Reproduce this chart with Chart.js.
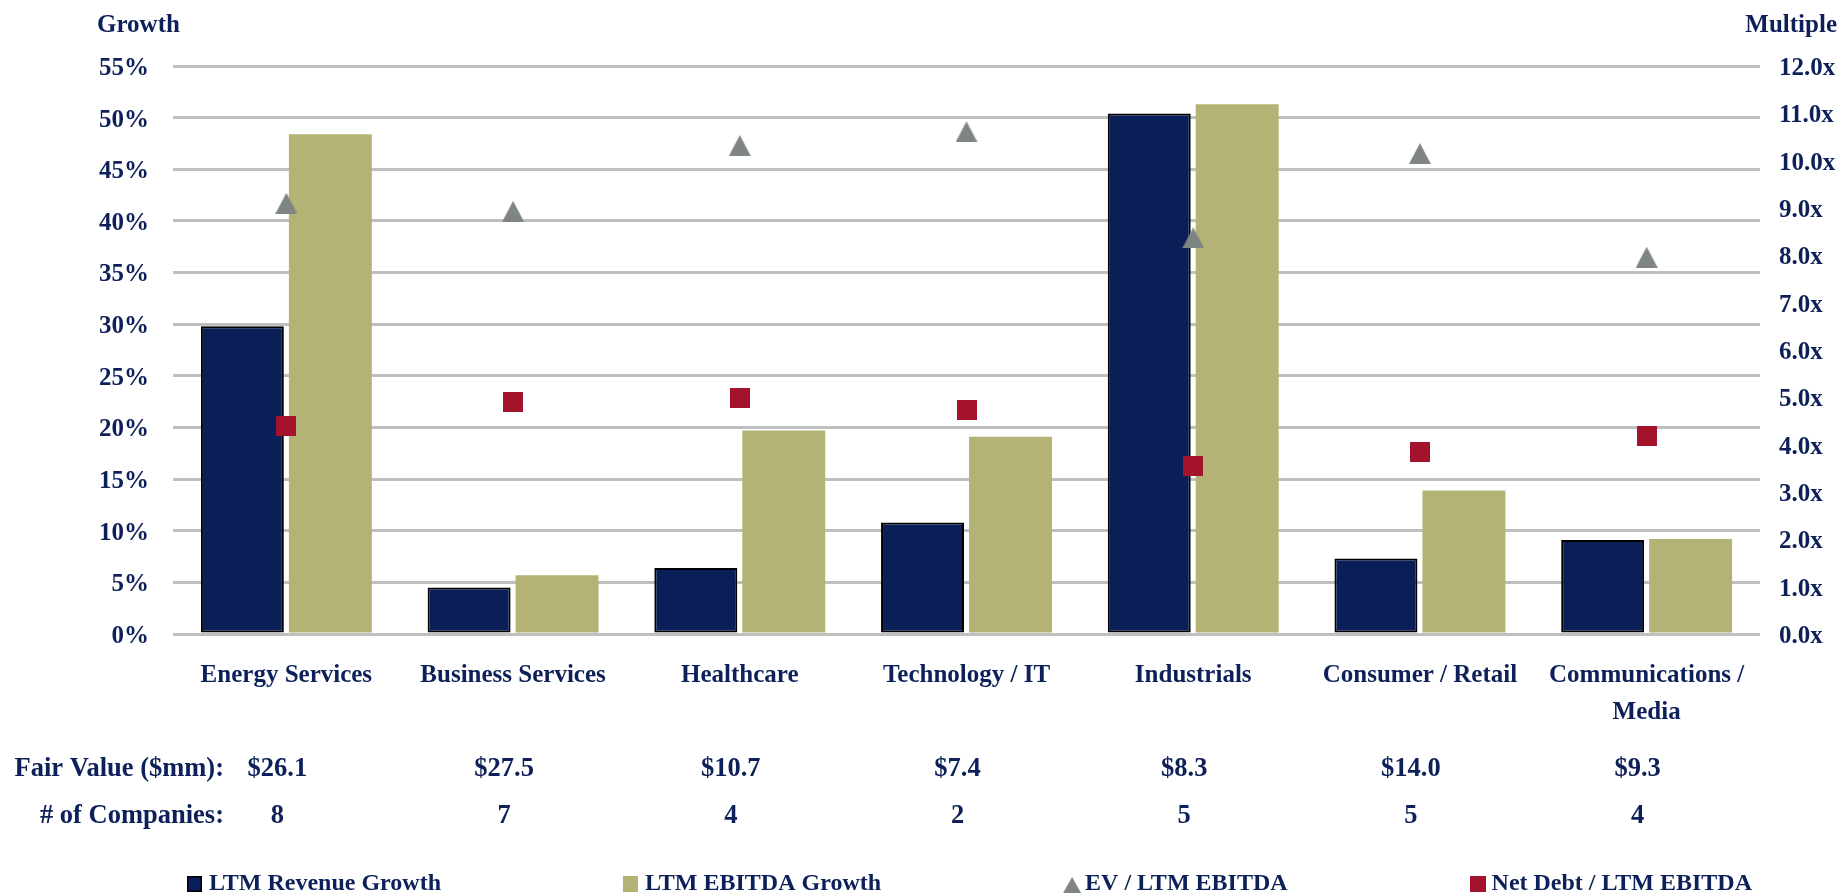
<!DOCTYPE html>
<html><head><meta charset="utf-8">
<script src="https://cdn.jsdelivr.net/npm/chart.js@4/dist/chart.umd.min.js"></script>
<style>html,body{margin:0;padding:0;background:#fff;} #wrap{width:1843px;height:895px;}</style>
</head><body><div id="wrap"><canvas id="c" width="1843" height="895"></canvas></div>
<script>
// ---- data ----
const categories = ['Energy Services', 'Business Services', 'Healthcare', 'Technology / IT', 'Industrials', 'Consumer / Retail', ['Communications /', 'Media']];
const revenueGrowth = [29.8, 4.5, 6.4, 10.8, 50.4, 7.3, 9.1];
const ebitdaGrowth = [48.4, 5.7, 19.7, 19.1, 51.3, 13.9, 9.2];
const evEbitda = [9.10, 8.93, 10.32, 10.61, 8.37, 10.15, 7.96];
const netDebtEbitda = [4.40, 4.91, 4.99, 4.74, 3.55, 3.85, 4.19];
const fairValue = ['$26.1', '$27.5', '$10.7', '$7.4', '$8.3', '$14.0', '$9.3'];
const companyCounts = ['8', '7', '4', '2', '5', '5', '4'];
const growthTickLabels = ['0%', '5%', '10%', '15%', '20%', '25%', '30%', '35%', '40%', '45%', '50%', '55%'];
const multipleTickLabels = ['0.0x', '1.0x', '2.0x', '3.0x', '4.0x', '5.0x', '6.0x', '7.0x', '8.0x', '9.0x', '10.0x', '11.0x', '12.0x'];
const seriesNames = ['LTM Revenue Growth', 'LTM EBITDA Growth', 'EV / LTM EBITDA', 'Net Debt / LTM EBITDA'];

// ---- styles ----
const NAVY = '#0a1e57', TAN = '#b3b375', GRAY = '#7e8583', RED = '#a3132b', TEXT = '#0d2059', GRID = '#bfbfbf';
const FAMILY = '"Liberation Serif", "Times New Roman", serif';
const FONT = 'bold 25px ' + FAMILY;
const TABLE_FONT = 'bold 26.5px ' + FAMILY;

function triangleImg(w, h) {
  const c = document.createElement('canvas'); c.width = w; c.height = h;
  const g = c.getContext('2d'); g.fillStyle = GRAY;
  g.beginPath(); g.moveTo(0, h); g.lineTo(w / 2, 0); g.lineTo(w, h); g.closePath(); g.fill();
  return c;
}
function squareImg(s) {
  const c = document.createElement('canvas'); c.width = s; c.height = s;
  const g = c.getContext('2d'); g.fillStyle = RED; g.fillRect(0, 0, s, s);
  return c;
}
const TRI = triangleImg(22, 21);
const SQ = squareImg(20);

const annotate = {
  id: 'annotate',
  afterDraw(chart) {
    const ctx = chart.ctx, xs = chart.scales.x;
    ctx.save();
    ctx.fillStyle = TEXT; ctx.font = FONT; ctx.textBaseline = 'middle';
    ctx.textAlign = 'left'; ctx.fillText('Growth', 97, 26);
    ctx.textAlign = 'right'; ctx.fillText('Multiple', 1837, 26);
    ctx.font = TABLE_FONT;
    ctx.fillText('Fair Value ($mm):', 224, 769);
    ctx.fillText('# of Companies:', 224, 816);
    ctx.textAlign = 'center';
    fairValue.forEach((v, i) => {
      const x = xs.getPixelForValue(i) - 9;
      ctx.fillText(v, x, 769);
      ctx.fillText(companyCounts[i], x, 816);
    });
    // legend
    ctx.font = 'bold 24px ' + FAMILY;
    ctx.textAlign = 'left';
    let x = 187; const cy = 884;
    chart.data.datasets.forEach((ds, i) => {
      if (i === 0) {
        ctx.fillStyle = '#000'; ctx.fillRect(x, cy - 8, 15, 16);
        ctx.fillStyle = ds.backgroundColor; ctx.fillRect(x + 1.5, cy - 6.5, 12, 13);
      } else if (i === 1) {
        ctx.fillStyle = ds.backgroundColor; ctx.fillRect(x, cy - 8, 15, 16);
      } else if (i === 2) {
        ctx.drawImage(TRI, x, cy - 7, 18, 16);
      } else {
        ctx.drawImage(SQ, x, cy - 8, 16, 16);
      }
      ctx.fillStyle = TEXT;
      ctx.fillText(ds.label, x + 22, cy);
      x += 22 + ctx.measureText(ds.label).width + 182;
    });
    ctx.restore();
  }
};

Chart.defaults.font.family = FAMILY;
Chart.defaults.font.weight = 'bold';
Chart.defaults.font.size = 25;
Chart.defaults.color = TEXT;

new Chart(document.getElementById('c'), {
  type: 'bar',
  data: {
    labels: categories,
    datasets: [
      { label: seriesNames[0], data: revenueGrowth, backgroundColor: NAVY, borderColor: '#000', borderWidth: 2, borderSkipped: false, yAxisID: 'y', order: 2, categoryPercentage: 0.776, barPercentage: 0.943 },
      { label: seriesNames[1], data: ebitdaGrowth, backgroundColor: TAN, borderWidth: 0, yAxisID: 'y', order: 2, categoryPercentage: 0.776, barPercentage: 0.943 },
      { type: 'line', label: seriesNames[2], data: evEbitda, showLine: false, pointStyle: TRI, backgroundColor: GRAY, borderColor: GRAY, yAxisID: 'y1', order: 1 },
      { type: 'line', label: seriesNames[3], data: netDebtEbitda, showLine: false, pointStyle: SQ, backgroundColor: RED, borderColor: RED, yAxisID: 'y1', order: 0 }
    ]
  },
  options: {
    responsive: false, animation: false, devicePixelRatio: 1,
    layout: { padding: { top: 66, bottom: 161, left: 0, right: 0 } },
    plugins: { legend: { display: false }, tooltip: { enabled: false } },
    scales: {
      x: {
        grid: { display: false, drawTicks: false }, border: { display: false },
        ticks: { padding: 23, maxRotation: 0, autoSkip: false, font: { size: 25, lineHeight: 1.48 }, color: TEXT },
        afterFit(s) { s.height = 100; }
      },
      y: {
        position: 'left', min: 0, max: 55,
        grid: { color: GRID, lineWidth: 3, drawTicks: false }, border: { display: false },
        ticks: { stepSize: 5, padding: 24, color: TEXT, font: { size: 25, lineHeight: '5px' }, callback: (v) => ['', growthTickLabels[Math.round(v / 5)]] },
        afterFit(s) { s.width = 173; }
      },
      y1: {
        position: 'right', min: 0, max: 12,
        grid: { drawOnChartArea: false, drawTicks: false }, border: { display: false },
        ticks: { stepSize: 1, padding: 19, color: TEXT, font: { size: 25, lineHeight: '5px' }, callback: (v) => ['', multipleTickLabels[Math.round(v)]] },
        afterFit(s) { s.width = 83; }
      }
    }
  },
  plugins: [annotate]
});
</script>
</body></html>
